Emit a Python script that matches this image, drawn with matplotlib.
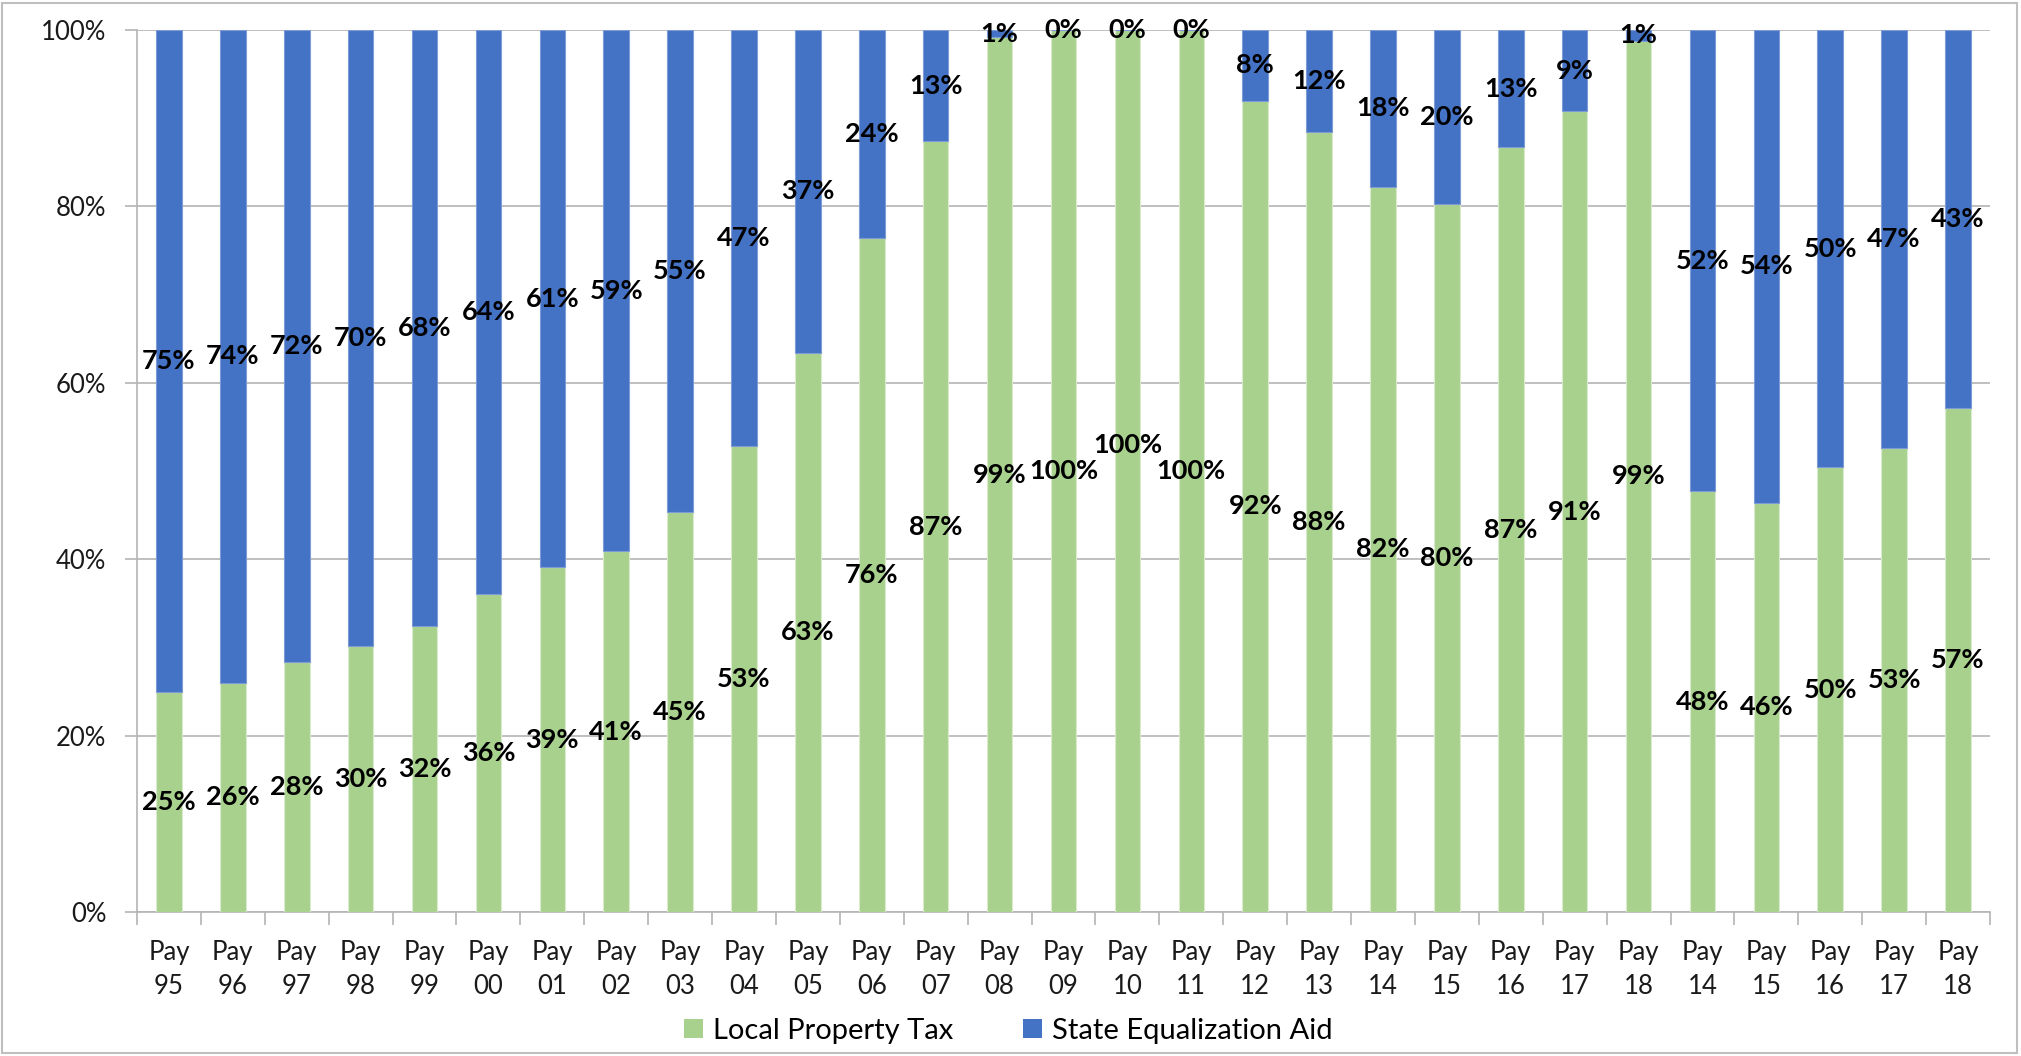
import matplotlib
matplotlib.use("Agg")
import matplotlib.pyplot as plt
from matplotlib.patches import Rectangle, Patch
from matplotlib.ticker import FixedLocator, PercentFormatter

# Share of school funding by source, in percent
years = ["95", "96", "97", "98", "99", "00", "01", "02", "03", "04", "05", "06",
         "07", "08", "09", "10", "11", "12", "13", "14", "15", "16", "17", "18",
         "14", "15", "16", "17", "18"]
categories = [f"Pay\n{y}" for y in years]

local_property_tax = [25.0, 26.0, 28.4, 30.2, 32.4, 36.1, 39.1, 40.9, 45.4, 52.8,
                      63.4, 76.4, 87.4, 99.2, 100.0, 100.0, 100.0, 92.0, 88.4, 82.2,
                      80.3, 86.7, 90.8, 98.8, 47.7, 46.4, 50.4, 52.6, 57.1]
state_equalization_aid = [75.0, 74.0, 71.6, 69.8, 67.6, 63.9, 60.9, 59.1, 54.6, 47.2,
                          36.6, 23.6, 12.6, 0.8, 0.0, 0.0, 0.0, 8.0, 11.6, 17.8,
                          19.7, 13.3, 9.2, 1.2, 52.3, 53.6, 49.6, 47.4, 42.9]

GREEN = "#A9D18E"
BLUE = "#4472C4"
GRID = "#B4B4B4"

plt.rcParams["font.family"] = ["Lato", "DejaVu Sans"]

fig = plt.figure(figsize=(20.21, 10.56), dpi=100)
ax = fig.add_axes([137 / 2021, 1 - 912 / 1056, (1990 - 137) / 2021, (912 - 30) / 1056])

x = list(range(len(categories)))
bar_w = 0.4
ax.bar(x, local_property_tax, width=bar_w, color=GREEN, edgecolor="#D8EBCB",
       linewidth=0.8, zorder=3, label="Local Property Tax")
ax.bar(x, state_equalization_aid, width=bar_w, bottom=local_property_tax,
       color=BLUE, edgecolor="#7D9BD6", linewidth=0.8, zorder=3,
       label="State Equalization Aid")

# Centered value labels inside each segment
label_kw = dict(ha="center", va="center", fontsize=19.5, fontweight="bold",
                color="black", zorder=5)
nudge = {15: 3.0}
for i, (lv, sv) in enumerate(zip(local_property_tax, state_equalization_aid)):
    ax.text(i, lv / 2 + nudge.get(i, 0.0), f"{lv:.0f}%", **label_kw)
    ax.text(i, lv + sv / 2, f"{sv:.0f}%", **label_kw)

ax.set_xlim(-0.5, len(categories) - 0.5)
ax.set_ylim(0, 100)
ax.yaxis.set_major_locator(FixedLocator([0, 20, 40, 60, 80, 100]))
ax.yaxis.set_major_formatter(PercentFormatter(decimals=0))
ax.yaxis.grid(True, color=GRID, linewidth=1.2, zorder=0)
ax.set_axisbelow(True)

ax.set_xticks(x)
ax.set_xticklabels(categories, fontsize=18.5, linespacing=1.45)
ax.set_xticks([i - 0.5 for i in range(len(categories) + 1)], minor=True)
ax.tick_params(axis="x", which="major", length=0, pad=20, colors="#1A1A1A")
ax.tick_params(axis="x", which="minor", length=9, width=1.2, color=GRID)
ax.tick_params(axis="y", length=9, width=1.2, color=GRID, pad=13,
               labelsize=18.5, labelcolor="#1A1A1A")

for side in ("top", "right"):
    ax.spines[side].set_visible(False)
for side in ("left", "bottom"):
    ax.spines[side].set_color(GRID)
    ax.spines[side].set_linewidth(1.2)

handles = [Patch(facecolor=GREEN, edgecolor="none"), Patch(facecolor=BLUE, edgecolor="none")]
fig.legend(handles, ["Local Property Tax", "State Equalization Aid"], loc="center",
           bbox_to_anchor=(0.499, 1 - 1031 / 1056), ncol=2, frameon=False,
           fontsize=21, handlelength=0.65, handleheight=0.65, handletextpad=0.35,
           columnspacing=2.4)

# Chart area border
fig.patches.append(Rectangle((2 / 2021, 3 / 1056), 2015 / 2021, 1050 / 1056,
                             transform=fig.transFigure, fill=False,
                             edgecolor="#BFBFBF", linewidth=1.5))

fig.savefig("out.png", dpi=100)
